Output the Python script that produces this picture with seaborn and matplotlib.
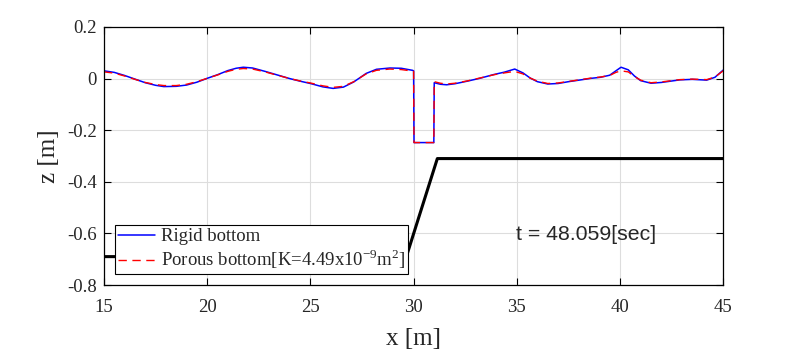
import numpy as np
import pandas as pd
import matplotlib
matplotlib.use("Agg")
import matplotlib.pyplot as plt
import seaborn as sns

# Free surface, rigid bottom (x [m], z [m])
rigid_x = [15.0, 15.5, 16.0, 16.5, 17.0, 17.5, 17.9, 18.5, 19.0, 19.5, 20.0, 20.5, 21.0, 21.4, 21.75,
           22.2, 22.8, 23.4, 24.0, 24.5, 25.0, 25.6, 26.1, 26.6, 27.1, 27.7, 28.2, 28.85, 29.4, 29.95,
           30.0, 30.02, 30.98, 31.0, 31.3, 31.6, 32.0, 32.6, 33.2, 33.9, 34.4, 34.9, 35.3, 35.65, 36.0,
           36.5, 37.0, 37.5, 38.1, 38.6, 39.05, 39.5, 39.8, 40.05, 40.4, 40.7, 41.0, 41.5, 42.0, 42.9,
           43.5, 44.2, 44.6, 45.0]
rigid_z = [0.030, 0.024, 0.012, -0.002, -0.016, -0.026, -0.031, -0.030, -0.025, -0.014, 0.001, 0.015, 0.031, 0.040, 0.044,
           0.041, 0.028, 0.014, 0.000, -0.010, -0.019, -0.032, -0.038, -0.033, -0.013, 0.020, 0.036, 0.041, 0.040, 0.032,
           0.030, -0.248, -0.248, -0.016, -0.022, -0.024, -0.020, -0.010, 0.001, 0.016, 0.025, 0.037, 0.022, 0.002, -0.012,
           -0.021, -0.019, -0.012, -0.005, 0.001, 0.005, 0.013, 0.030, 0.044, 0.034, 0.010, -0.008, -0.018, -0.015, -0.005,
           -0.003, -0.006, 0.005, 0.033]

# Free surface, porous bottom
porous_x = [15.0, 15.5, 16.0, 16.5, 17.0, 17.5, 17.9, 18.5, 19.0, 19.5, 20.0, 20.5, 21.0, 21.4, 21.75,
            22.2, 22.8, 23.4, 24.0, 24.5, 25.0, 25.6, 26.1, 26.6, 27.1, 27.7, 28.2, 28.85, 29.4, 29.95,
            30.0, 30.02, 30.98, 31.0, 31.3, 31.6, 32.0, 32.6, 33.2, 33.9, 34.4, 34.9, 35.3, 35.65, 36.0,
            36.5, 37.0, 37.5, 38.1, 38.6, 39.05, 39.5, 39.8, 40.05, 40.4, 40.7, 41.0, 41.5, 42.0, 42.9,
            43.5, 44.2, 44.6, 45.0]
porous_z = [0.026, 0.021, 0.010, -0.003, -0.015, -0.023, -0.027, -0.027, -0.022, -0.012, 0.001, 0.014, 0.028, 0.036, 0.039,
            0.037, 0.026, 0.013, 0.000, -0.009, -0.017, -0.028, -0.034, -0.030, -0.012, 0.018, 0.032, 0.037, 0.035, 0.029,
            0.028, -0.248, -0.248, -0.012, -0.018, -0.021, -0.018, -0.009, 0.002, 0.015, 0.022, 0.028, 0.018, 0.002, -0.010,
            -0.019, -0.017, -0.011, -0.004, 0.002, 0.006, 0.012, 0.024, 0.030, 0.026, 0.008, -0.006, -0.016, -0.013, -0.004,
            -0.002, -0.004, 0.006, 0.030]

# Bottom profile
bottom_x = [15.0, 29.65, 31.15, 45.0]
bottom_z = [-0.69, -0.69, -0.31, -0.31]

time_label = "t = 48.059[sec]"
rigid_label = "Rigid bottom"
porous_label = r"Porous bottom[K=4.49x10$^{\mathregular{-9}}$m$^{\mathregular{2}}$]"

sns.set_theme(style="white")
plt.rcParams["font.family"] = ["Liberation Serif", "DejaVu Serif"]
plt.rcParams["mathtext.fontset"] = "custom"
plt.rcParams["mathtext.rm"] = "Liberation Serif"

fig = plt.figure(figsize=(8, 3.5), dpi=100)
ax = fig.add_axes([0.13, 0.1857, 0.774, 0.7372])

df_r = pd.DataFrame({"x": rigid_x, "z": rigid_z})
df_p = pd.DataFrame({"x": porous_x, "z": porous_z})
df_b = pd.DataFrame({"x": bottom_x, "z": bottom_z})

sns.lineplot(data=df_r, x="x", y="z", ax=ax, color="#0000ff", lw=1.1, sort=False,
             estimator=None, label=rigid_label)
sns.lineplot(data=df_p, x="x", y="z", ax=ax, color="#ff0000", lw=1.0, sort=False,
             estimator=None, dashes=False, label=porous_label)
ax.lines[-1].set_linestyle((0, (6, 4)))
sns.lineplot(data=df_b, x="x", y="z", ax=ax, color="black", lw=2.2, sort=False,
             estimator=None, legend=False)

ax.set_xlim(15, 45)
ax.set_ylim(-0.8, 0.2)
ax.set_xticks([15, 20, 25, 30, 35, 40, 45])
ax.set_yticks([-0.8, -0.6, -0.4, -0.2, 0, 0.2])
ax.set_yticklabels(["-0.8", "-0.6", "-0.4", "-0.2", "0", "0.2"])
ax.grid(True, color="#dddddd", lw=0.8)
ax.tick_params(direction="in", length=5, width=0.8, labelsize=13.5, color="black",
               top=True, right=True, left=True, bottom=True)
ax.tick_params(axis="x", pad=10)
ax.tick_params(axis="y", pad=5)
for s in ax.spines.values():
    s.set_color("black")
    s.set_linewidth(0.9)
ax.set_xlabel("x [m]", fontsize=18, labelpad=9)
ax.set_ylabel("z [m]", fontsize=18, labelpad=5)

ax.text(0.666, 0.196, time_label, transform=ax.transAxes, fontsize=15.3,
        family=["Liberation Sans", "DejaVu Sans"], ha="left", va="center")

leg = ax.legend(loc="lower left", bbox_to_anchor=(0.0178, 0.043), fontsize=13.5,
                frameon=True, fancybox=False, framealpha=1, borderpad=0.15,
                labelspacing=0.1, handlelength=2.0, handletextpad=0.3, borderaxespad=0)
leg.get_frame().set_edgecolor("black")
leg.get_frame().set_linewidth(0.8)

fig.savefig("out.png", dpi=100, facecolor="white")
